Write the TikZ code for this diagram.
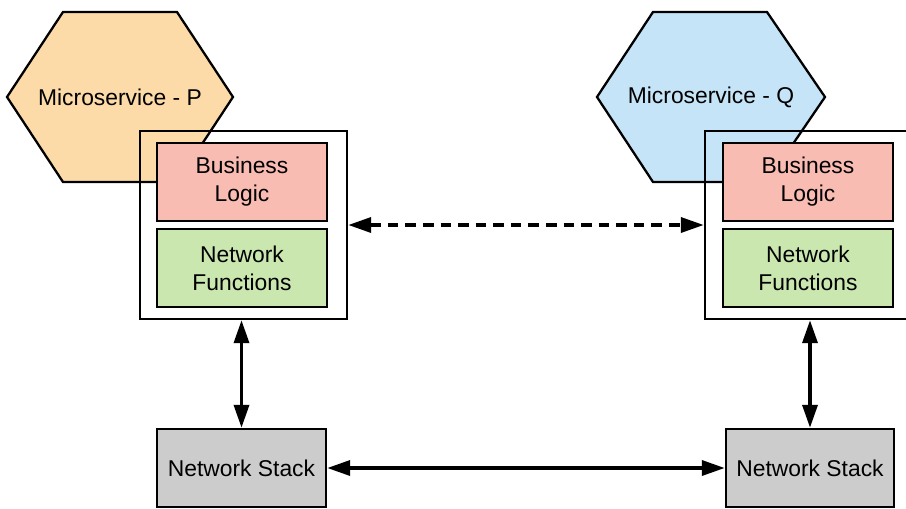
\documentclass[tikz,border=0pt]{standalone}
\usepackage{fontspec}
\setmainfont{Liberation Sans}
\usetikzlibrary{arrows.meta,positioning,calc}
\definecolor{HexOrange}{RGB}{253,219,168}
\definecolor{HexBlue}{RGB}{197,228,247}
\definecolor{LogicPink}{RGB}{249,188,179}
\definecolor{FuncGreen}{RGB}{201,231,175}
\definecolor{StackGray}{RGB}{204,204,204}

\begin{document}
\begin{tikzpicture}[x=0.02cm,y=-0.02cm,>={Triangle[length=0.46cm,width=0.3cm]},
  txt/.style={font=\fontsize{13}{16}\selectfont,align=center},
  layerbox/.style={draw,line width=1.4pt,inner sep=0pt,minimum width=3.4cm,minimum height=1.56cm,txt},
  outerbox/.style={draw,line width=1.4pt,inner sep=0pt,minimum width=4.14cm,minimum height=3.76cm},
  hexagon/.style={draw,line width=1.3pt},
  link/.style={<->,line width=2pt}]
  \useasboundingbox (0,0) rectangle (906,508);
  \clip (0,0) rectangle (906,508);
  % microservice P
  \draw[hexagon,fill=HexOrange] (7,97) -- (63,12) -- (177,12) -- (233,97) -- (177,182) -- (63,182) -- cycle;
  \node[txt] (msP) at (120,97) {Microservice - P};
  \node[outerbox] (outerP) at (243.5,225) {};
  \node[layerbox,fill=LogicPink] (logicP) at (242,182) {Business\\Logic};
  \node[layerbox,fill=FuncGreen] (funcP) at (242,268) {Network\\Functions};
  \node[layerbox,fill=StackGray,minimum width=3.38cm] (stackP) at (241.5,468) {Network Stack};
  % microservice Q
  \draw[hexagon,fill=HexBlue] (597,97) -- (653,12) -- (767,12) -- (825,97) -- (767,182) -- (653,182) -- cycle;
  \node[txt] (msQ) at (711,97) {Microservice - Q};
  \node[outerbox] (outerQ) at (808.5,225) {};
  \node[layerbox,fill=LogicPink] (logicQ) at (808,182) {Business\\Logic};
  \node[layerbox,fill=FuncGreen] (funcQ) at (808,268) {Network\\Functions};
  \node[layerbox,fill=StackGray,minimum width=3.36cm] (stackQ) at (810,468) {Network Stack};
  % links
  \draw[link,dash pattern=on 6pt off 4pt] (outerP.east) -- (outerQ.west);
  \draw[link] (stackP.north |- outerP.south) -- (stackP.north);
  \draw[link] (stackQ.north |- outerQ.south) -- (stackQ.north);
  \draw[link] (stackP.east) -- (stackQ.west);
\end{tikzpicture}
\end{document}
